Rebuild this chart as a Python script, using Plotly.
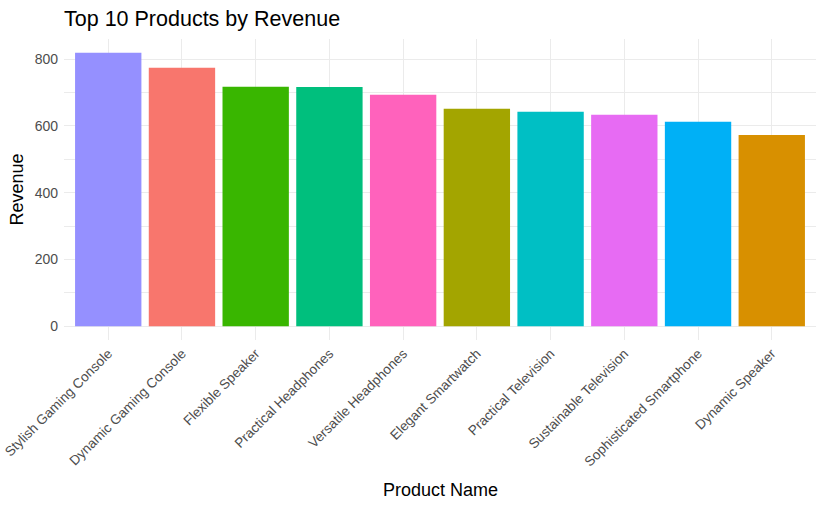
import plotly.graph_objects as go

products = ["Stylish Gaming Console", "Dynamic Gaming Console", "Flexible Speaker",
            "Practical Headphones", "Versatile Headphones", "Elegant Smartwatch",
            "Practical Television", "Sustainable Television", "Sophisticated Smartphone",
            "Dynamic Speaker"]
revenue = [819, 774, 717, 716, 693, 651, 642, 633, 612, 573]
colors = ["#9590FF", "#F8766D", "#39B600", "#00BF7D", "#FF62BC",
          "#A3A500", "#00BFC4", "#E76BF3", "#00B0F6", "#D89000"]
y_ticks = [0, 200, 400, 600, 800]

FONT = "Liberation Sans, Arial, sans-serif"
GRID = "#EBEBEB"

fig = go.Figure(go.Bar(x=products, y=revenue, marker=dict(color=colors, line=dict(width=0)),
                       width=0.9, showlegend=False))

W, H = 826, 510
L, R, T, B = 64, 10, 39, 170

fig.update_layout(
    width=W, height=H,
    margin=dict(l=L, r=R, t=T, b=B, autoexpand=False),
    paper_bgcolor="white", plot_bgcolor="white",
    font=dict(family=FONT, color="#4D4D4D"),
    title=dict(text="Top 10 Products by Revenue", x=L / W, xanchor="left", xref="container",
               y=1 - 18 / H, yanchor="middle", yref="container",
               font=dict(size=21.5, color="black", family=FONT)),
    xaxis=dict(range=[-0.6, 9.6], tickangle=-45, showgrid=True, gridcolor=GRID, gridwidth=1.3,
               zeroline=False, showline=False, ticks="", tickfont=dict(size=13.6, color="#4D4D4D"),
               automargin=False, ticklabelstandoff=2),
    yaxis=dict(range=[-41, 860], tickvals=y_ticks, showgrid=True, gridcolor=GRID, gridwidth=1.3,
               zeroline=False, showline=False, ticks="", tickfont=dict(size=14, color="#4D4D4D"),
               minor=dict(dtick=100, tick0=0, showgrid=True, gridcolor=GRID, gridwidth=0.7),
               automargin=False, ticklabelstandoff=5),
    annotations=[
        dict(text="Revenue", xref="paper", yref="paper", x=(16 - L) / (W - L - R), y=0.5,
             xanchor="center", yanchor="middle", textangle=-90, showarrow=False,
             font=dict(size=18, color="black", family=FONT)),
        dict(text="Product Name", xref="paper", yref="paper", x=0.5,
             y=-(490 - (H - B)) / (H - T - B), xanchor="center", yanchor="middle",
             showarrow=False, font=dict(size=18, color="black", family=FONT)),
    ],
)

fig.write_html("out.html")
